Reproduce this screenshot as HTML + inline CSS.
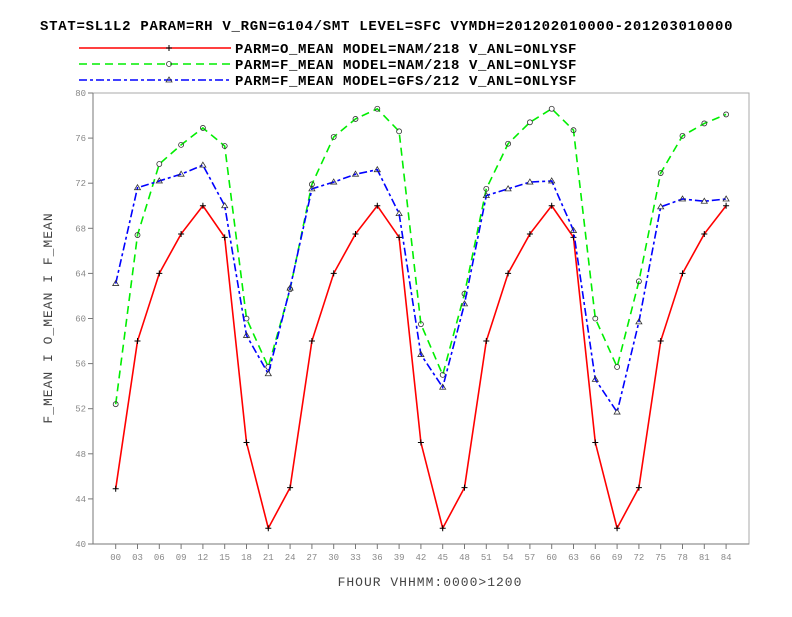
<!DOCTYPE html>
<html><head><meta charset="utf-8"><style>
body{margin:0;background:#fff}
svg text{font-family:"Liberation Mono",monospace}
</style></head><body>
<svg id="c" width="792" height="612" xmlns="http://www.w3.org/2000/svg">
<text x="40" y="30" font-size="14" font-weight="bold" letter-spacing="0.72">STAT=SL1L2 PARAM=RH V_RGN=G104/SMT LEVEL=SFC VYMDH=201202010000-201203010000</text>
<g id="legend"></g>
<rect x="93" y="93" width="656" height="451" fill="none" stroke="#aaa" stroke-width="1"/>
<line x1="93" y1="544" x2="749" y2="544" stroke="#777"/>
<line x1="93" y1="93" x2="93" y2="544" stroke="#777"/>
<g id="ticks"></g>
<g id="series"></g>
<text x="430" y="586" font-size="13" fill="#444" text-anchor="middle" letter-spacing="1">FHOUR VHHMM:0000&gt;1200</text>
<text transform="translate(52,318) rotate(-90)" font-size="13" fill="#444" text-anchor="middle" letter-spacing="1">F_MEAN I O_MEAN I F_MEAN</text>
</svg>
<script>
const categories=["00","03","06","09","12","15","18","21","24","27","30","33","36","39","42","45","48","51","54","57","60","63","66","69","72","75","78","81","84"];
const oMeanNam=[44.9,58,64,67.5,70,67.2,49,41.4,45,58,64,67.5,70,67.2,49,41.4,45,58,64,67.5,70,67.2,49,41.4,45,58,64,67.5,70];
const fMeanNam=[52.4,67.4,73.7,75.4,76.9,75.3,60,55.7,62.6,71.9,76.1,77.7,78.6,76.6,59.5,55,62.2,71.5,75.5,77.4,78.6,76.7,60,55.7,63.3,72.9,76.2,77.3,78.1];
const fMeanGfs=[63.1,71.6,72.2,72.8,73.6,70,58.5,55.1,62.7,71.5,72.1,72.8,73.2,69.3,56.8,53.9,61.3,70.9,71.5,72.1,72.2,67.8,54.6,51.7,59.7,69.9,70.6,70.4,70.6];
const yTicks=[40,44,48,52,56,60,64,68,72,76,80];
const legendLabels=["PARM=O_MEAN MODEL=NAM/218 V_ANL=ONLYSF","PARM=F_MEAN MODEL=NAM/218 V_ANL=ONLYSF","PARM=F_MEAN MODEL=GFS/212 V_ANL=ONLYSF"];
const NS="http://www.w3.org/2000/svg";
const x=i=>115.7+i*21.8;
const y=v=>544-(v-40)*(451/40);
function mk(t,a,p){const e=document.createElementNS(NS,t);for(const k in a)e.setAttribute(k,a[k]);p.appendChild(e);return e;}
const ticks=document.getElementById('ticks');
yTicks.forEach(v=>{
 const l=mk('line',{x1:88,x2:93,y1:y(v),y2:y(v),stroke:'#777'},ticks);
 
 
 const t=mk('text',{x:86,y:y(v)+3,'font-size':9,fill:'#888','text-anchor':'end'},ticks);
 
 
 t.textContent=v;
});
categories.forEach((c,i)=>{
 const l=mk('line',{x1:x(i),x2:x(i),y1:544,y2:549,stroke:'#777'},ticks);
 
 
 const t=mk('text',{x:x(i),y:560,'font-size':9,fill:'#888','text-anchor':'middle'},ticks);
 
 
 t.textContent=c;
});
const series=[
 {d:oMeanNam,c:'#f00',dash:'',m:'plus',n:'o-mean-nam-line'},
 {d:fMeanNam,c:'#0e0',dash:'8,5',m:'circle',n:'f-mean-nam-line'},
 {d:fMeanGfs,c:'#00f',dash:'8,3,3,3',m:'tri',n:'f-mean-gfs-line'}];
const sg=document.getElementById('series');
function marker(m,cx,cy,p){
 let e;
 if(m==='plus')e=mk('path',{d:`M${cx-3},${cy}h6M${cx},${cy-3}v6`,stroke:'#000','stroke-width':1},p);
 else if(m==='circle')e=mk('circle',{cx:cx,cy:cy,r:2.5,fill:'none',stroke:'#333','stroke-width':0.8},p);
 else e=mk('path',{d:`M${cx},${cy-3}L${cx+3},${cy+2}L${cx-3},${cy+2}Z`,fill:'none',stroke:'#333','stroke-width':0.8},p);
 
 
}
series.forEach(s=>{
 const pl=mk('polyline',{points:s.d.map((v,i)=>x(i)+','+y(v)).join(' '),fill:'none',stroke:s.c,'stroke-width':1.6,'stroke-dasharray':s.dash},sg);
 
 
 s.d.forEach((v,i)=>marker(s.m,x(i),y(v),sg));
});
const lg=document.getElementById('legend');
series.forEach((s,i)=>{
 const yy=48+i*16;
 const l=mk('line',{x1:79,x2:231,y1:yy,y2:yy,stroke:s.c,'stroke-width':1.6,'stroke-dasharray':s.dash},lg);
 
 
 marker(s.m,169,yy,lg);
 const t=mk('text',{x:235,y:yy+5,'font-size':14,'font-weight':'bold','letter-spacing':0.6},lg);
 
 
 t.textContent=legendLabels[i];
});
</script>
</body></html>
